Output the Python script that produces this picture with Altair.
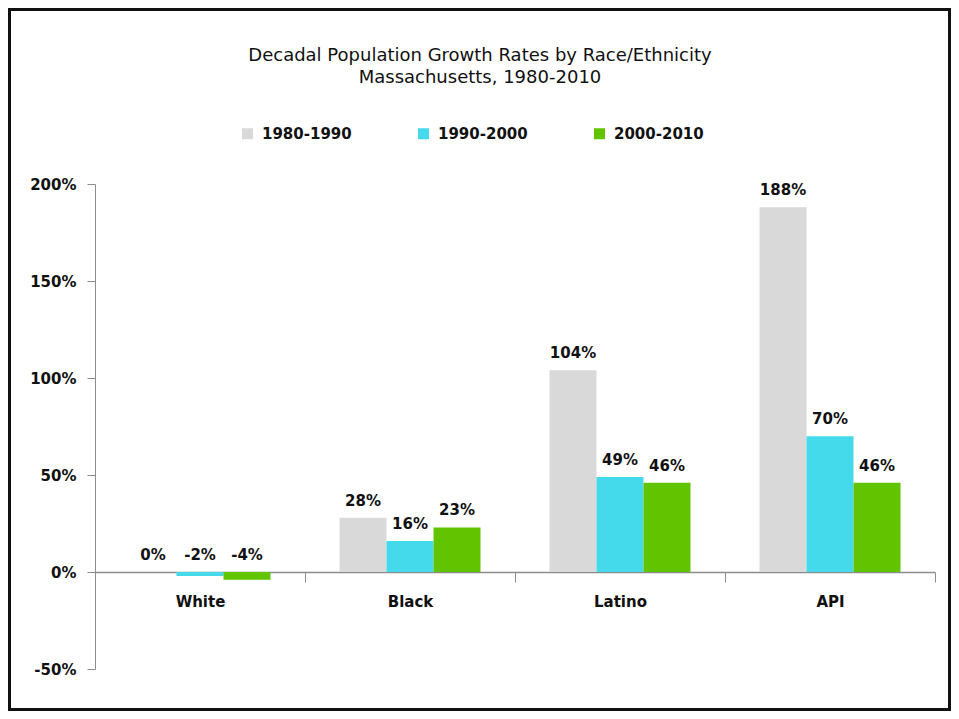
import altair as alt
import pandas as pd

groups = ["White", "Black", "Latino", "API"]
periods = ["1980-1990", "1990-2000", "2000-2010"]
growth_1980_1990 = [0.00, 0.28, 1.04, 1.88]
growth_1990_2000 = [-0.02, 0.16, 0.49, 0.70]
growth_2000_2010 = [-0.04, 0.23, 0.46, 0.46]
colors = ["#D9D9D9", "#45D9EC", "#62C300"]
y_ticks = [-0.5, 0.0, 0.5, 1.0, 1.5, 2.0]

rows = []
for p, series in zip(periods, [growth_1980_1990, growth_1990_2000, growth_2000_2010]):
    for g, v in zip(groups, series):
        rows.append({"group": g, "period": p, "value": v})
df = pd.DataFrame(rows)

FONT = "DejaVu Sans"
W, H = 840, 485
PAD = {"left": 87, "top": 176, "right": 16, "bottom": 42}
PCT = "replace(format(datum.value, '.0%'), '\u2212', '-')"

x_enc = alt.X(
    "group:N", sort=groups, title=None,
    scale=alt.Scale(paddingInner=0, paddingOuter=0),
    axis=alt.Axis(
        orient="bottom", offset=-97, labelAngle=0, tickBand="extent",
        tickSize=10, labelPadding=12, domainColor="#8C8C8C", tickColor="#8C8C8C",
        domainWidth=1.5, labelFont=FONT, labelFontSize=15, labelFontWeight="bold",
        labelColor="#111111",
    ),
)
xoff_enc = alt.XOffset(
    "period:N", sort=periods,
    scale=alt.Scale(paddingInner=0, paddingOuter=0.734),
)
y_scale = alt.Scale(domain=[-0.5, 2.0], nice=False)

bars = alt.Chart(df).mark_bar().encode(
    x=x_enc,
    xOffset=xoff_enc,
    y=alt.Y(
        "value:Q", scale=y_scale, title=None,
        axis=alt.Axis(
            values=y_ticks, labelExpr=PCT, grid=False, tickSize=8, labelPadding=11,
            domainColor="#8C8C8C", tickColor="#8C8C8C", labelFont=FONT,
            labelFontSize=15, labelFontWeight="bold", labelColor="#111111",
        ),
    ),
    color=alt.Color(
        "period:N", sort=periods,
        scale=alt.Scale(domain=periods, range=colors),
        legend=alt.Legend(
            title=None, orient="none", legendX=145, legendY=-58, direction="horizontal",
            symbolType="square", symbolSize=121, symbolStrokeWidth=0, labelOffset=7,
            columnPadding=64, labelFont=FONT, labelFontSize=15, labelFontWeight="bold",
            labelColor="#111111",
        ),
    ),
)

labels = alt.Chart(df).transform_calculate(
    ypos="max(datum.value, 0)",
    label=PCT,
).mark_text(
    baseline="bottom", dy=-9, font=FONT, fontSize=15, fontWeight="bold", color="#111111"
).encode(
    x=alt.X("group:N", sort=groups),
    xOffset=xoff_enc,
    y=alt.Y("ypos:Q", scale=y_scale),
    text="label:N",
)

frame = alt.Chart(alt.Data(values=[{}])).mark_rect(
    filled=False, stroke="#111111", strokeWidth=3
).encode(
    x=alt.value(-PAD["left"] + 1.5),
    x2=alt.value(W + PAD["right"] - 1.5),
    y=alt.value(-PAD["top"] + 1.5),
    y2=alt.value(H + PAD["bottom"] - 1.5),
)

chart = alt.layer(bars, labels, frame).properties(
    width=W, height=H,
    autosize=alt.AutoSizeParams(type="none"),
    padding=PAD,
    background="white",
    title=alt.TitleParams(
        text="Decadal Population Growth Rates by Race/Ethnicity",
        subtitle="Massachusetts, 1980-2010",
        anchor="middle", dx=-35, offset=-79,
        font=FONT, fontSize=18, fontWeight="normal", color="#111111",
        subtitleFont=FONT, subtitleFontSize=18, subtitleColor="#111111",
        subtitlePadding=4,
    ),
).configure_view(stroke="transparent", strokeWidth=0)

chart.save("out.html", embed_options={"renderer": "svg", "actions": False})
